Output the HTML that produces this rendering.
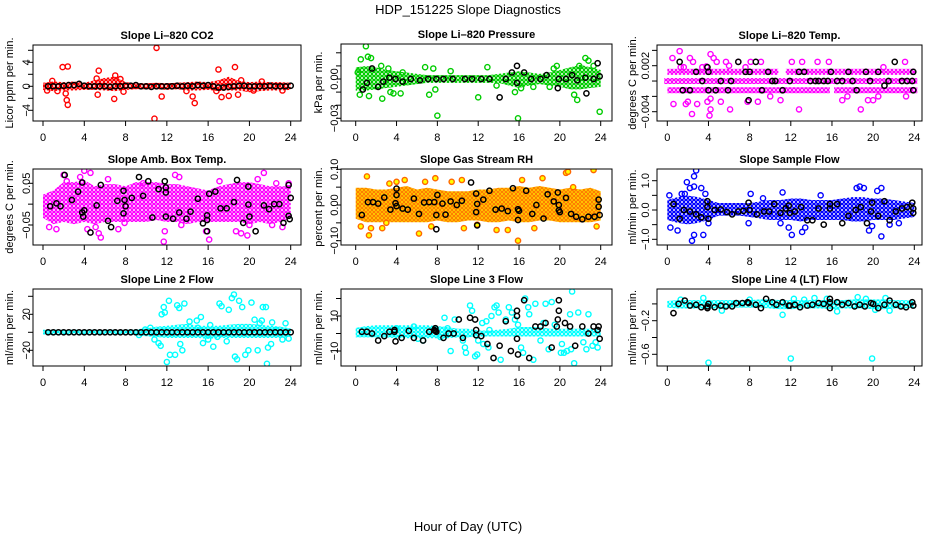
<!DOCTYPE html>
<html><head><meta charset="utf-8"><style>
html,body{margin:0;padding:0;background:#fff}
svg{display:block;font-family:"Liberation Sans",Arial,sans-serif}
</style></head><body>
<svg id="chart" width="936" height="540" viewBox="0 0 936 540">
<defs>
<pattern id="pt-red" width="4" height="4" patternUnits="userSpaceOnUse"><rect width="4" height="4" fill="#fff"/><circle cx="2" cy="2" r="1.6" fill="none" stroke="#ff0000" stroke-width="1.3"/></pattern>
<pattern id="pt-green" width="4" height="4" patternUnits="userSpaceOnUse"><rect width="4" height="4" fill="#fff"/><circle cx="2" cy="2" r="1.6" fill="none" stroke="#00cc00" stroke-width="1.3"/></pattern>
<pattern id="pt-magenta" width="4" height="4" patternUnits="userSpaceOnUse"><rect width="4" height="4" fill="#fff"/><circle cx="2" cy="2" r="1.6" fill="none" stroke="#ff00ff" stroke-width="1.3"/></pattern>
<pattern id="pt-orange" width="4" height="4" patternUnits="userSpaceOnUse"><rect width="4" height="4" fill="#ffdd00"/><circle cx="2" cy="2" r="1.5" fill="none" stroke="#ff7700" stroke-width="1"/></pattern>
<pattern id="pt-blue" width="4" height="4" patternUnits="userSpaceOnUse"><rect width="4" height="4" fill="#fff"/><circle cx="2" cy="2" r="1.6" fill="none" stroke="#0000ff" stroke-width="1.3"/></pattern>
<pattern id="pt-cyan" width="4" height="4" patternUnits="userSpaceOnUse"><rect width="4" height="4" fill="#fff"/><circle cx="2" cy="2" r="1.6" fill="none" stroke="#00ffff" stroke-width="1.3"/></pattern>
</defs>
<text x="468" y="14" text-anchor="middle" font-size="13">HDP_151225  Slope Diagnostics</text>
<text x="468" y="531" text-anchor="middle" font-size="13">Hour of Day (UTC)</text>
</svg>
<script>
// shared hour grid for envelopes
const hours = [0,1,2,3,4,5,6,7,8,9,10,11,12,13,14,15,16,17,18,19,20,21,22,23,24];
const xTicks = [0,4,8,12,16,20,24];
const regularBlackX = [0.5,1,1.5,2,2.5,3,3.5,4,4.5,5,5.5,6,6.5,7,7.5,8,8.5,9,9.5,10,10.5,11,11.5,12,12.5,13,13.5,14,14.5,15,15.5,16,16.5,17,17.5,18,18.5,19,19.5,20,20.5,21,21.5,22,22.5,23,23.5,24];

// Panel 1: CO2
const co2Lo = [-0.4,-0.6,-0.5,-0.5,-0.4,-0.4,-0.5,-0.6,-0.4,-0.3,-0.3,-0.3,-0.4,-0.3,-0.5,-0.5,-0.4,-0.6,-0.5,-0.5,-0.8,-0.6,-0.5,-0.5,-0.4];
const co2Hi = [0.4,0.6,0.5,0.6,0.4,0.8,1.2,1.4,0.5,0.3,0.3,0.4,0.3,0.4,0.5,0.6,0.5,0.8,1.4,0.7,0.5,0.6,0.5,0.5,0.4];
const co2OutX = [1.9,2.4,2.2,2.3,2.4,5.4,5.3,6.9,7.5,7.8,11.0,10.8,11.5,14.5,14.7,17.0,17.3,18.6,18.0,18.9,19.2,0.9,0.4,1.4,20.4,21.2,23.2,7.0,5.2,13.9,16.8];
const co2OutY = [3.2,3.3,-1.2,-2.3,-3.1,2.6,-1.4,-2.1,1.2,-0.9,6.4,-5.4,-1.7,-1.7,-2.8,2.8,-1.8,3.2,-1.6,-1.4,1.0,0.9,-0.7,-0.8,-0.7,0.8,-0.7,1.8,1.3,-0.8,-0.8];
const co2BlkY = [0,0,0,0.1,0.2,0.2,0.4,0.1,0,0,0,0,-0.1,0,0,0.1,0.1,0.2,0,0,-0.1,0,0,0,0,0.1,0,0.1,0,0.2,0.1,0.2,0,-0.2,-0.2,-0.1,0,0.1,0.1,0,0,0,0,0.1,0,0,0,0.1];

// Panel 2: Pressure
const prLo = [-0.008,-0.008,-0.007,-0.006,-0.005,-0.004,-0.003,-0.002,-0.002,-0.002,-0.002,-0.002,-0.002,-0.002,-0.002,-0.004,-0.006,-0.004,-0.003,-0.004,-0.005,-0.007,-0.007,-0.006,-0.005];
const prHi = [0.008,0.009,0.008,0.006,0.005,0.004,0.003,0.002,0.002,0.002,0.002,0.002,0.002,0.002,0.003,0.004,0.005,0.004,0.003,0.004,0.006,0.008,0.010,0.008,0.006];
const prOutX = [1.0,0.5,1.2,1.5,0.4,1.3,2.6,2.5,3.4,3.7,4.4,6.8,7.6,7.2,8.0,7.8,9.3,12.0,12.9,13.8,15.6,15.9,16.2,17.4,19.0,19.4,19.7,21.4,21.7,21.9,22.5,22.8,23.3,23.9,0.2,3.2,4.6];
const prOutY = [0.025,0.015,0.017,0.016,-0.012,-0.013,-0.015,0.010,-0.010,-0.011,-0.011,0.009,0.008,-0.012,-0.028,-0.008,0.006,-0.014,0.009,-0.005,-0.010,-0.030,-0.007,-0.006,-0.006,0.008,0.010,-0.012,-0.016,0.010,0.016,0.014,0.010,-0.025,0.005,0.008,0.005];
const prBlkX = [0.7,1.1,1.6,2.2,2.7,3.3,3.9,4.6,5.4,6.3,7.1,7.9,8.6,9.5,10.7,11.4,12.3,13.1,14.1,14.7,15.3,15.8,15.8,16.5,17.2,18.1,18.7,19.8,19.9,20.6,21.2,21.7,22.6,22.5,23.3,23.7,23.9];
const prBlkY = [-0.008,-0.003,0.008,-0.006,-0.002,0.001,0,-0.002,0,-0.001,0,0,0,0,0,0,0,0,-0.014,0,0.005,0.010,-0.003,0.005,0,0,0.003,-0.007,0,0,0.003,-0.001,-0.011,0.001,0,0.012,0.002];

// Panel 3: Li-820 Temp (quantized stripes)
const tpSegX0 = [0.3,11.8,0,0.3,11.0,16.5];
const tpSegX1 = [10.5,23.8,24,10.5,15.5,24];
const tpSegY = [0.0012,0.0012,0,-0.0012,-0.0012,-0.0012];
const tpOutX = [0.5,1.2,1.3,1.6,2.2,2.5,3.4,4.5,4.2,4.8,5.7,6.0,6.9,7.6,8.1,9.1,12.1,13.1,14.6,15.7,0.6,1.8,2.0,2.4,2.9,3.9,4.2,4.1,4.2,5.2,6.1,7.8,8.8,10.0,11.0,12.8,17.0,17.5,18.8,19.5,20.0,20.5,23.1,23.2,21.0,3.8];
const tpOutY = [0.0030,0.0039,0.0018,0.0018,0.0030,0.0025,0.0018,0.0030,0.0035,0.0025,0.0025,0.0020,0.0025,0.0018,0.0025,0.0025,0.0025,0.0025,0.0025,0.0025,-0.0030,-0.0030,-0.0027,-0.0043,-0.0030,-0.0027,-0.0037,-0.0045,-0.0023,-0.0027,-0.0037,-0.0027,-0.0027,-0.0020,-0.0025,-0.0037,-0.0025,-0.0020,-0.0037,-0.0025,-0.0025,-0.0020,0.0025,-0.0020,0.0018,0.0019];
const tpBlkX = [1.2,1.5,2.2,2.8,3.4,3.9,4.0,4.0,4.7,5.2,5.9,6.2,6.9,7.6,7.9,8.0,8.6,9.2,9.8,10.2,10.5,11.2,11.9,12.8,13.3,13.9,14.4,14.7,15.2,15.6,15.9,16.5,17.0,17.6,18.0,18.4,19.3,19.7,20.5,21.1,21.5,22.1,22.8,23.3,23.8,23.9,23.9];
const tpBlkY = [0.0025,-0.0012,-0.0012,0.0012,0,0.0018,0.0012,-0.0012,-0.0012,0,-0.0012,0,0.0025,0.0012,-0.0025,0.0012,0.0025,-0.0012,0.0012,0,0,-0.0012,0,0.0012,0.0012,0,0,0,0,0,0.0012,0,0,0.0012,0,-0.0012,0.0012,0,0.0012,-0.0006,0,0.0025,0,0,0,0.0012,-0.0012];

// Panel 4: Amb. Box Temp
const btLo = [-0.03,-0.045,-0.04,-0.045,-0.04,-0.045,-0.04,-0.04,-0.04,-0.04,-0.04,-0.035,-0.04,-0.04,-0.045,-0.04,-0.04,-0.04,-0.04,-0.04,-0.045,-0.04,-0.045,-0.04,-0.03];
const btHi = [0.02,0.03,0.05,0.05,0.055,0.04,0.045,0.045,0.04,0.05,0.05,0.05,0.045,0.045,0.04,0.035,0.03,0.04,0.045,0.05,0.05,0.045,0.04,0.04,0.04];
const btOutX = [0.6,1.3,2.0,2.3,3.6,4.0,4.3,4.6,5.1,5.4,5.6,6.3,7.3,7.9,9.7,11.7,11.8,12.8,13.4,15.8,16.1,18.7,19.2,19.8,20.0,20.8,21.4,22.2,22.6,23.2,23.8,13.2,17.1];
const btOutY = [-0.055,-0.06,0.07,0.055,0.065,0.08,-0.06,0.075,-0.055,-0.07,-0.08,0.06,-0.06,-0.045,0.05,-0.09,-0.065,0.07,-0.05,-0.065,-0.085,-0.065,-0.07,-0.075,-0.05,0.06,0.075,-0.05,0.05,-0.055,0.05,0.065,0.055];
const btBlkX = [0.7,1.3,1.7,2.1,2.8,3.4,3.8,3.8,3.9,4.0,4.6,5.2,5.6,6.3,6.6,7.2,7.8,7.8,7.9,8.0,8.6,9.3,9.7,10.2,10.6,11.2,11.8,11.9,11.9,11.9,12.6,13.2,13.9,14.3,15.0,15.5,15.9,15.9,15.9,16.1,16.7,17.2,17.8,18.5,18.8,19.4,19.9,19.9,20.0,20.6,21.4,21.9,22.4,22.9,23.3,23.8,23.8,23.9,24.0];
const btBlkY = [-0.005,0.002,-0.005,0.07,0.01,0.03,0.052,-0.02,-0.03,-0.015,-0.068,-0.003,0.046,-0.04,-0.055,0.008,0.032,-0.022,0.01,-0.005,0.015,0.065,0.02,0.055,-0.032,0.036,0.055,0.04,0.028,-0.03,-0.035,-0.02,-0.035,-0.018,0.013,-0.046,-0.027,-0.038,-0.065,0.025,0.03,-0.01,-0.01,0.005,0.058,-0.045,0.042,-0.001,-0.03,-0.065,-0.003,-0.012,0,0,-0.045,0.046,-0.028,-0.036,0.015];

// Panel 5: Gas Stream RH
const rhLo = [-0.035,-0.045,-0.045,-0.045,-0.045,-0.045,-0.045,-0.045,-0.04,-0.045,-0.045,-0.04,-0.04,-0.045,-0.045,-0.04,-0.045,-0.045,-0.04,-0.04,-0.045,-0.045,-0.045,-0.045,-0.04];
const rhHi = [0.045,0.045,0.04,0.04,0.045,0.05,0.04,0.045,0.04,0.035,0.035,0.035,0.04,0.04,0.045,0.045,0.05,0.045,0.05,0.045,0.04,0.045,0.04,0.045,0.035];
const rhOutX = [0.5,1.1,1.3,1.5,2.6,3.0,3.3,4.0,4.8,6.2,6.8,7.8,7.4,10.4,10.6,11.9,13.8,14.9,15.9,16.3,17.5,18.3,20.6,20.8,23.3,23.6,21.3,9.4];
const rhOutY = [-0.06,0.08,-0.085,-0.065,-0.065,-0.05,0.06,0.065,0.07,-0.08,0.065,0.075,-0.06,0.07,-0.065,-0.055,-0.07,-0.07,-0.1,0.07,-0.065,0.075,0.09,0.093,0.098,-0.06,0.05,0.065];
const rhBlkX = [0.6,1.2,1.7,2.2,2.8,3.4,3.9,4.0,4.0,4.0,4.6,5.1,5.7,6.2,6.7,7.2,7.7,7.9,7.9,8.0,8.5,8.8,9.3,9.9,10.4,11.3,11.8,11.8,11.9,11.9,12.5,13.1,13.7,14.3,14.9,15.4,15.9,16.0,15.9,16.7,17.3,17.7,18.4,18.8,19.4,19.8,19.9,19.9,20.0,20.6,21.1,21.6,22.2,22.8,23.4,23.8,23.8,23.9];
const rhBlkY = [-0.028,0.008,0.008,0.004,0.021,-0.013,0.005,0.028,0.046,-0.003,-0.01,-0.013,0.018,-0.025,0.007,0.008,0.008,-0.028,-0.068,0.028,0.004,-0.027,0.01,0,0.012,0.063,0.032,-0.02,0.003,-0.057,0.015,0.04,-0.013,-0.01,-0.017,0.047,-0.012,-0.016,-0.042,0.04,-0.025,0,-0.038,0.03,0.01,0.035,0,-0.015,-0.02,0.02,-0.025,-0.033,-0.04,-0.033,-0.033,0.015,-0.005,-0.028];

// Panel 6: Sample Flow
const sfLo = [-0.3,-0.4,-0.45,-0.4,-0.3,-0.15,-0.15,-0.15,-0.2,-0.25,-0.3,-0.3,-0.3,-0.35,-0.3,-0.3,-0.3,-0.3,-0.35,-0.35,-0.3,-0.3,-0.3,-0.25,-0.2];
const sfHi = [0.3,0.4,0.45,0.4,0.3,0.2,0.2,0.2,0.2,0.25,0.3,0.3,0.35,0.35,0.3,0.3,0.3,0.35,0.4,0.4,0.35,0.35,0.3,0.25,0.2];
const sfOutX = [0.2,0.3,1.0,1.4,1.7,1.9,2.2,2.6,2.8,2.6,2.4,2.6,3.3,3.5,3.7,4.0,8.1,7.9,9.3,11.2,11.8,12.1,13.1,13.4,14.9,18.4,18.7,19.1,19.6,19.9,20.4,20.8,20.8,22.5,11.0,21.6];
const sfOutY = [0.5,-0.6,-0.7,0.55,0.55,0.95,0.75,1.15,1.35,0.8,-1.05,-0.85,0.75,-0.85,0.55,-0.45,0.55,-0.45,0.4,0.6,-0.6,-0.85,-0.75,-0.6,0.5,0.75,0.8,0.75,-0.7,-0.55,0.65,0.75,-0.9,-0.45,-0.45,-0.5];
const sfBlkX = [0.6,1.2,1.6,2.2,2.8,3.3,3.9,3.9,4.0,4.6,5.2,5.8,6.3,6.9,7.4,7.9,8.0,8.7,9.4,9.9,10.4,11.0,11.5,11.8,11.9,12.4,13.0,13.6,14.1,14.7,15.2,15.8,15.8,16.5,17.0,17.6,18.3,18.8,19.4,19.8,19.9,20.5,21.1,21.6,22.2,22.8,23.3,23.8,23.9,23.9];
const sfBlkY = [0.2,-0.3,0,-0.05,-0.15,-0.25,0.3,0.1,-0.3,0,0.02,-0.07,-0.15,-0.05,-0.03,0.25,0,-0.15,-0.05,-0.05,0.2,-0.1,0.05,0.15,-0.1,-0.05,0.1,-0.35,-0.35,0.05,-0.5,0.2,0.05,0.2,-0.45,-0.2,0,0.1,-0.45,-0.05,0.25,-0.2,0.3,-0.35,-0.05,0.05,0.1,0.25,-0.1,0.05];

// Panel 7: Line 2 Flow
const l2Lo = [-1,-2,-1,-1,-1,-1,-1,-1,-1,-2,-3,-4,-5,-5,-5,-5,-6,-5,-5,-5,-5,-5,-5,-5,-3];
const l2Hi = [1.5,1.5,1.5,1.5,1.5,1.5,1.5,1.5,1.5,2,3,5,6,7,8,6,6,6,7,8,8,7,6,5,3];
const l2OutX = [9.3,9.9,10.4,10.8,11.2,11.4,11.5,11.7,11.8,12.2,12.0,12.3,12.8,13.0,13.2,13.3,13.5,13.7,14.2,14.9,15.5,15.3,16.0,16.2,16.5,16.9,17.1,17.3,17.8,18.0,18.3,18.5,18.6,18.8,19.0,19.3,19.6,19.9,20.2,20.8,21.0,21.3,21.7,21.6,21.8,22.1,22.2,22.6,23.2,23.5,23.8,20.5,15.0,21.2];
const l2OutY = [-3,3,5,-8,-12,-15,20,28,22,35,-33,-25,-25,30,27,-13,-20,32,12,13,-12,17,-8,8,-16,-5,32,29,-10,25,38,42,-27,-30,35,28,-25,-20,33,-20,10,28,-35,28,-17,-13,11,2,-8,10,-7,14,5,13];
const l2BlkY = [0,0,0,0,0,0,0,0,0,0,0,0,0,0,0,0,0,0,0,0,0,0,0,0,0,0,0,0,0,0,0,0,0,0,0,0,0,0,0,0,0,0,0,0,0,0,0,0];

// Panel 8: Line 3 Flow
const l3Lo = [-1.5,-1.5,-1.5,-1.5,-2,-2,-2,-2,-2,-2,-1.5,-1.5,-1,-1,-1,-1,-1,-1,-1,-1,-1,-1,-1,-1,-1];
const l3Hi = [2.5,3.5,4,4,4,4,4,4,3.5,3,2,2,1,1,1.5,2,3,3,3,2,2,2,2,2,1.5];
const l3OutX = [4.0,5.7,6.1,6.6,8.3,8.7,9.0,9.3,9.7,10.5,10.7,10.8,11.2,11.4,11.7,11.9,12.0,12.4,12.5,12.8,13.0,13.1,13.3,13.6,13.8,14.0,14.2,14.7,15.0,15.3,15.6,15.9,16.2,16.4,16.6,16.9,17.0,17.4,17.6,18.1,18.4,18.6,18.9,19.2,19.5,20.1,20.2,20.4,20.7,21.0,21.1,21.4,21.2,21.8,22.3,22.6,22.8,23.2,23.5,23.7];
const l3OutY = [3,4,-3,-4,-2,9,3,-10,8,-4,-8,-11,16,13,-13,-12,-4,6,-6,7,-8,2,10,15,16,12,-15,8,15,12,8,5,-8,-11,20,15,11,-15,17,-4,6,17,-9,18,5,-11,-6,-11,-10,11,-9,-17,24,12,-5,-9,11,-7,-5,-8];
const l3BlkX = [0.6,1.1,1.6,2.2,2.8,3.3,3.8,3.8,3.9,4.5,5.2,5.7,6.6,7.2,7.7,7.8,7.8,7.9,8.6,9.1,9.6,10.1,10.5,11.2,11.7,11.8,11.8,12.3,12.9,13.5,14.1,14.7,15.2,15.8,15.8,15.8,15.9,16.5,17.0,17.6,18.1,18.6,19.2,19.7,19.8,19.9,19.9,20.5,21.0,21.5,22.2,22.8,23.3,23.7,23.8,23.9];
const l3BlkY = [1,1,0,-4,-1.5,1,2,1,-4.5,-2.5,1.5,-2.5,-4,1,2,3,1.5,1,-2.5,0,0,8,-2.5,9,8,2,-1,-1.5,-6,-14,-7,7,-10,13,10,-3,-12,19,-14,4,4,6,-8,4,8,13,19,6,4,-7,4,0,4,2,4,-3];

// Panel 9: Line 4 (LT) Flow
const l4Lo = [-0.03,-0.04,-0.04,-0.04,-0.04,-0.04,-0.03,-0.03,-0.03,-0.03,-0.04,-0.05,-0.05,-0.04,-0.04,-0.04,-0.05,-0.04,-0.04,-0.04,-0.05,-0.05,-0.04,-0.04,-0.03];
const l4Hi = [0.02,0.03,0.03,0.03,0.03,0.03,0.03,0.03,0.03,0.04,0.04,0.03,0.03,0.03,0.03,0.03,0.03,0.03,0.04,0.04,0.04,0.04,0.03,0.03,0.02];
const l4OutX = [4.0,12.0,19.9,11.2,3.5,5.3,8.0,12.3,13.3,14.3,15.5,16.5,18.5,19.3,21.2,20.2,21.6,1.3];
const l4OutY = [-0.7,-0.65,-0.65,-0.13,0.07,-0.08,0.05,0.06,0.05,0.07,0.06,-0.09,0.08,0.06,0.07,-0.07,-0.08,0.05];
const l4BlkX = [0.6,1.1,1.7,2.2,2.8,3.3,3.9,3.9,4.0,4.6,5.2,5.7,6.3,6.7,7.3,7.8,7.9,8.6,9.1,9.6,10.2,10.6,11.2,11.8,11.9,12.4,12.9,13.6,14.1,14.7,15.2,15.8,15.8,15.8,16.5,17.0,17.6,18.2,18.7,19.2,19.8,20.0,20.5,21.1,21.6,22.2,22.7,23.2,23.8,23.9];
const l4BlkY = [-0.11,0,0.04,-0.02,-0.01,-0.04,-0.03,-0.05,0,-0.04,-0.02,-0.03,-0.03,0.01,0.01,0.02,0.01,-0.01,-0.05,0.06,0.02,-0.01,0.02,-0.02,-0.02,-0.01,-0.04,-0.02,-0.01,0.01,0,0.06,0.02,-0.05,0.02,-0.01,0.01,-0.03,-0.01,-0.03,0.01,0,-0.05,-0.01,0.04,-0.01,-0.03,-0.04,0.02,-0.02];

const NS = 'http://www.w3.org/2000/svg';
const svg = document.getElementById('chart');
function mk(tag, attrs, parent) {
  const e = document.createElementNS(NS, tag);
  for (const k in attrs) e.setAttribute(k, attrs[k]);
  (parent || svg).appendChild(e);
  return e;
}

const panels = [
  {key:'co2', title:'Slope Li\u2013820 CO2', ylab:'Licor ppm per min.', color:'#ff0000', pat:'pt-red',
   box:[33,301,45,121], x0:43, x24:290.7, ref:[4,62.3,-4,110.3], ticks:[-4,-2,0,2,4,6], labels:[4,0,-4], fmt:v=>String(v).replace('-','\u2212'), ylabX:9, tickLabX:26,
   lo:co2Lo, hi:co2Hi, ox:co2OutX, oy:co2OutY, bx:regularBlackX, by:co2BlkY},
  {key:'pressure', title:'Slope Li\u2013820 Pressure', ylab:'kPa per min.', color:'#00cc00', pat:'pt-green',
   box:[341,612,44,121], x0:355.7, x24:600.7, ref:[0,79,-0.03,118.3], ticks:[-0.03,-0.02,-0.01,0,0.01,0.02], labels:[0,-0.03], fmt:v=>v.toFixed(2).replace('-','\u2212'), ylabX:318, tickLabX:334,
   lo:prLo, hi:prHi, ox:prOutX, oy:prOutY, bx:prBlkX, by:prBlkY},
  {key:'li820-temp', title:'Slope Li\u2013820 Temp.', ylab:'degrees C per min.', color:'#ff00ff', pat:'pt-magenta',
   box:[657,922,45,121], x0:667.3, x24:914.3, ref:[0.002,65.7,-0.004,111.7], ticks:[-0.004,-0.002,0,0.002,0.004], labels:[0.002,-0.004], fmt:v=>v.toFixed(3).replace('-','\u2212'), ylabX:632, tickLabX:645,
   segs:true, ox:tpOutX, oy:tpOutY, bx:tpBlkX, by:tpBlkY},
  {key:'box-temp', title:'Slope Amb. Box Temp.', ylab:'degrees C per min.', color:'#ff00ff', pat:'pt-magenta',
   box:[33,301,169,245], x0:43, x24:290.7, ref:[0.05,183.3,-0.05,225], ticks:[-0.05,0,0.05], labels:[0.05,-0.05], fmt:v=>v.toFixed(2).replace('-','\u2212'), ylabX:9, tickLabX:26,
   lo:btLo, hi:btHi, ox:btOutX, oy:btOutY, bx:btBlkX, by:btBlkY},
  {key:'rh', title:'Slope Gas Stream RH', ylab:'percent per min.', color:'#ff6600', pat:'pt-orange', fill2:'#ffff00',
   box:[341,612,169,245], x0:355.7, x24:600.7, ref:[0.1,169.3,-0.1,240.7], ticks:[-0.1,-0.05,0,0.05,0.1], labels:[0.1,0,-0.1], fmt:v=>v.toFixed(2).replace('-','\u2212'), ylabX:318, tickLabX:334,
   lo:rhLo, hi:rhHi, ox:rhOutX, oy:rhOutY, bx:rhBlkX, by:rhBlkY},
  {key:'sample-flow', title:'Slope Sample Flow', ylab:'ml/min per min.', color:'#0000ff', pat:'pt-blue',
   box:[657,922,169,245], x0:667.3, x24:914.3, ref:[1,180.7,-1,239.3], ticks:[-1,-0.5,0,0.5,1], labels:[1,0,-1], fmt:v=>v.toFixed(1).replace('-','\u2212'), ylabX:632, tickLabX:645,
   lo:sfLo, hi:sfHi, ox:sfOutX, oy:sfOutY, bx:sfBlkX, by:sfBlkY},
  {key:'line2-flow', title:'Slope Line 2 Flow', ylab:'ml/min per min.', color:'#00ffff', pat:'pt-cyan',
   box:[33,301,289,366], x0:43, x24:290.7, ref:[20,314.3,-20,350.3], ticks:[-20,0,20,40], labels:[20,-20], fmt:v=>String(v).replace('-','\u2212'), ylabX:9, tickLabX:26,
   lo:l2Lo, hi:l2Hi, ox:l2OutX, oy:l2OutY, bx:regularBlackX, by:l2BlkY},
  {key:'line3-flow', title:'Slope Line 3 Flow', ylab:'ml/min per min.', color:'#00ffff', pat:'pt-cyan',
   box:[341,612,289,366], x0:355.7, x24:600.7, ref:[10,316,-10,351], ticks:[-10,0,10,20], labels:[10,-10], fmt:v=>String(v).replace('-','\u2212'), ylabX:318, tickLabX:334,
   lo:l3Lo, hi:l3Hi, ox:l3OutX, oy:l3OutY, bx:l3BlkX, by:l3BlkY},
  {key:'line4-flow', title:'Slope Line 4 (LT) Flow', ylab:'ml/min per min.', color:'#00ffff', pat:'pt-cyan',
   box:[657,922,289,366], x0:667.3, x24:914.3, ref:[-0.2,320.7,-0.6,354.3], ticks:[-0.6,-0.4,-0.2,0], labels:[-0.2,-0.6], fmt:v=>v.toFixed(1).replace('-','\u2212'), ylabX:632, tickLabX:645,
   lo:l4Lo, hi:l4Hi, ox:l4OutX, oy:l4OutY, bx:l4BlkX, by:l4BlkY}
];

panels.forEach(p => {
  const [L,R,T,B] = p.box;
  const sx = h => p.x0 + (p.x24 - p.x0) * h / 24;
  const k = (p.ref[3] - p.ref[1]) / (p.ref[2] - p.ref[0]);
  const sy = v => p.ref[1] + (v - p.ref[0]) * k;
  const g = mk('g', {});
  
  
  const clipId = 'clip-' + p.key;
  const cp = mk('clipPath', {id: clipId}, g);
  mk('rect', {x: L, y: T, width: R - L, height: B - T}, cp);
  const plot = mk('g', {'clip-path': 'url(#' + clipId + ')'}, g);
  
  
  if (p.segs) {
    tpSegY.forEach((v, i) => {
      const r = mk('rect', {x: sx(tpSegX0[i]) - 3, y: sy(v) - 3, width: sx(tpSegX1[i]) - sx(tpSegX0[i]) + 6, height: 6, fill: 'url(#' + p.pat + ')'}, plot);
      
      
    });
  } else {
    let pts = hours.map((h, i) => sx(h) + ',' + (sy(p.hi[i]) - 1.2));
    pts = pts.concat(hours.slice().reverse().map((h, j) => sx(h) + ',' + (sy(p.lo[hours.length - 1 - j]) + 1.2)));
    const band = mk('polygon', {points: pts.join(' '), fill: 'url(#' + p.pat + ')'}, plot);
    
    
  }
  p.ox.forEach((x, i) => {
    const c = mk('circle', {cx: sx(x), cy: sy(p.oy[i]), r: 2.6, fill: p.fill2 || 'none', stroke: p.color, 'stroke-width': 1.4}, plot);
    
    
  });
  p.bx.forEach((x, i) => {
    const c = mk('circle', {cx: sx(x), cy: sy(p.by[i]), r: 2.6, fill: 'none', stroke: '#000', 'stroke-width': 1.5}, plot);
    
    
  });
  const bx = mk('rect', {x: L, y: T, width: R - L, height: B - T, fill: 'none', stroke: '#000', 'stroke-width': 1}, g);
  
  
  const xa = mk('g', {}, g);
  
  
  mk('line', {x1: sx(0), x2: sx(24), y1: B, y2: B, stroke: '#000'}, xa);
  xTicks.forEach(t => {
    mk('line', {x1: sx(t), x2: sx(t), y1: B, y2: B + 5, stroke: '#000'}, xa);
    const tx = mk('text', {x: sx(t), y: B + 20, 'text-anchor': 'middle', 'font-size': 11}, xa);
    tx.textContent = t;
    
    
  });
  const ya = mk('g', {}, g);
  
  
  const tv = p.ticks.map(sy);
  mk('line', {x1: L, x2: L, y1: Math.min(...tv), y2: Math.max(...tv), stroke: '#000'}, ya);
  p.ticks.forEach(t => mk('line', {x1: L - 5, x2: L, y1: sy(t), y2: sy(t), stroke: '#000'}, ya));
  p.labels.forEach(t => {
    const y = sy(t);
    const tx = mk('text', {x: p.tickLabX, y: y, 'text-anchor': 'middle', 'font-size': 11, transform: 'rotate(-90 ' + p.tickLabX + ' ' + y + ')', dy: '0.35em'}, ya);
    tx.textContent = p.fmt(t);
    
    
  });
  const cy = (T + B) / 2;
  const yl = mk('text', {x: p.ylabX, y: cy, 'text-anchor': 'middle', 'font-size': 11, dy: '0.35em', transform: 'rotate(-90 ' + p.ylabX + ' ' + cy + ')'}, g);
  yl.textContent = p.ylab;
  
  
  const tt = mk('text', {x: (L + R) / 2, y: T - 6, 'text-anchor': 'middle', 'font-size': 11, 'font-weight': 'bold'}, g);
  tt.textContent = p.title;
  
  
});
</script>
</body></html>
